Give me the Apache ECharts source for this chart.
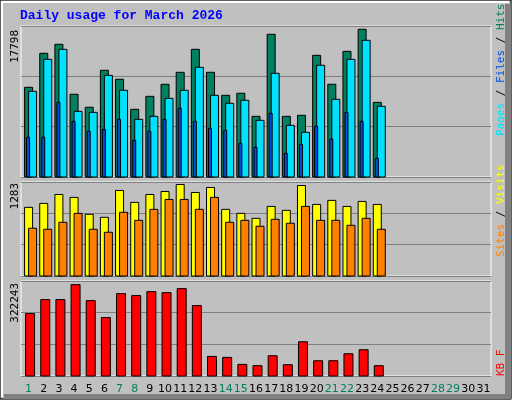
<!DOCTYPE html>
<html>
<head>
<meta charset="utf-8">
<script src="https://cdn.jsdelivr.net/npm/echarts@6/dist/echarts.min.js"></script>
<style>html,body{margin:0;padding:0;background:#fff}#chart{width:512px;height:400px}</style>
</head>
<body>
<div id="chart"></div>
<script>
var chart = echarts.init(document.getElementById('chart'));

var days = [];
for (var i = 1; i <= 31; i++) days.push(String(i));
var weekend = ['1', '7', '8', '14', '15', '21', '22', '28', '29'];

var hits = [10570, 14580, 15640, 9750, 8220, 12580, 11520, 7980, 9510, 10930, 12340, 15050, 12340, 9630, 9870, 7150, 16820, 7150, 7270, 14340, 10930, 14810, 17410, 8800];
var pages = [10100, 13870, 15050, 7740, 7620, 11980, 10220, 6800, 7150, 9270, 10220, 12930, 9630, 8690, 9040, 6680, 12220, 6090, 5270, 13170, 9160, 13870, 16110, 8330];
var files = [4680, 4680, 8800, 6560, 5390, 5620, 6800, 4320, 5390, 6800, 8100, 6560, 5740, 5500, 3970, 3500, 7510, 2790, 3850, 5980, 4470, 7620, 6560, 2210];
var visits = [937, 991, 1113, 1073, 842, 801, 1168, 1005, 1113, 1154, 1249, 1140, 1208, 910, 855, 787, 950, 896, 1235, 977, 1032, 950, 1018, 977];
var sites = [652, 638, 733, 855, 638, 597, 869, 760, 910, 1045, 1045, 910, 1073, 733, 760, 679, 774, 720, 950, 760, 760, 692, 787, 638];
var kb = [211800, 259200, 259200, 309900, 255800, 198300, 279400, 272700, 286200, 282800, 296400, 238900, 66500, 63100, 39400, 35000, 68700, 38300, 116100, 51800, 51800, 75500, 89000, 35000];

var max1 = 17798, max2 = 1283, max3 = 322243;

function barSeries(name, data, axis, color, x0, x1) {
    return {
        name: name,
        type: 'custom',
        xAxisIndex: axis,
        yAxisIndex: axis,
        data: data.map(function (v, i) { return [i, v]; }),
        renderItem: function (params, api) {
            var top = api.coord([api.value(0), api.value(1)]);
            var bot = api.coord([api.value(0), 0]);
            return {
                type: 'rect',
                shape: { x: top[0] + x0, y: top[1], width: x1 - x0, height: bot[1] - top[1] },
                style: { fill: color, stroke: '#000', lineWidth: 1 }
            };
        }
    };
}

var grids = [
    { left: 21, top: 26, width: 470, height: 151 },
    { left: 21, top: 182, width: 470, height: 94 },
    { left: 21, top: 281, width: 470, height: 95 }
];
grids.forEach(function (g) { g.show = true; g.borderColor = '#fff'; g.borderWidth = 1; g.backgroundColor = 'transparent'; });

function xAx(idx, labels) {
    return {
        type: 'category', gridIndex: idx, data: days, boundaryGap: true,
        axisLine: { show: false }, axisTick: { show: false },
        axisLabel: labels ? {
            show: true, interval: 0, margin: 8, fontSize: 11, fontFamily: 'DejaVu Sans',
            formatter: function (v) { return weekend.indexOf(v) >= 0 ? '{w|' + v + '}' : v; },
            color: '#000', rich: { w: { color: '#008060', fontSize: 11, fontFamily: 'DejaVu Sans' } }
        } : { show: false }
    };
}
function yAx(idx, max) {
    return {
        type: 'value', gridIndex: idx, min: 0, max: max, interval: max / 3,
        axisLabel: { show: false }, axisLine: { show: false }, axisTick: { show: false },
        splitLine: { lineStyle: { color: '#808080', width: 1 } }
    };
}

function vtext(x, y, rich, text) {
    return {
        type: 'text', x: x, y: y, rotation: Math.PI / 2,
        style: { text: text, rich: rich, fontFamily: 'DejaVu Sans Mono', fontSize: 11, align: 'right', verticalAlign: 'top' }
    };
}

option = {
    animation: false,
    backgroundColor: '#c0c0c0',
    grid: grids,
    xAxis: [xAx(0, false), xAx(1, false), xAx(2, true)],
    yAxis: [yAx(0, max1), yAx(1, max2), yAx(2, max3)],
    graphic: [
        { type: 'rect', shape: { x: 0, y: 0, width: 511, height: 399 }, style: { fill: 'none', stroke: '#000', lineWidth: 1 }, z: 100 },
        { type: 'rect', shape: { x: 1, y: 1, width: 508, height: 2 }, style: { fill: '#fff' }, z: 100 },
        { type: 'rect', shape: { x: 1, y: 1, width: 2, height: 396 }, style: { fill: '#fff' }, z: 100 },
        { type: 'rect', shape: { x: 505, y: 4, width: 6, height: 395 }, style: { fill: '#808080' }, z: 100 },
        { type: 'rect', shape: { x: 4, y: 394, width: 507, height: 5 }, style: { fill: '#808080' }, z: 100 },
        { type: 'text', x: 20, y: 9, style: { text: 'Daily usage for March 2026', fill: '#0000ff', fontFamily: 'Liberation Mono', fontWeight: 'bold', fontSize: 13 } },
        vtext(10, 30, {}, '17798'),
        vtext(10, 183, {}, '1283'),
        vtext(10, 283, {}, '322243'),
        {
            type: 'text', x: 496, y: 136, rotation: Math.PI / 2,
            style: {
                text: '{p|Pages} {s|/} {f|Files} {s|/} {h|Hits}', fontFamily: 'DejaVu Sans Mono', fontSize: 11,
                rich: { p: { fill: '#00e0ff' }, f: { fill: '#0050e0' }, h: { fill: '#008060' }, s: { fill: '#000' } },
                align: 'left', verticalAlign: 'top'
            }
        },
        {
            type: 'text', x: 496, y: 257, rotation: Math.PI / 2,
            style: {
                text: '{a|Sites} {s|/} {b|Visits}', fontFamily: 'DejaVu Sans Mono', fontSize: 11,
                rich: { a: { fill: '#ff8000' }, b: { fill: '#ffff00' }, s: { fill: '#000' } },
                align: 'left', verticalAlign: 'top'
            }
        },
        {
            type: 'text', x: 496, y: 376, rotation: Math.PI / 2,
            style: { text: 'KB F', fill: '#ff0000', fontFamily: 'DejaVu Sans Mono', fontSize: 11, align: 'left', verticalAlign: 'top' }
        }
    ],
    series: [
        barSeries('Hits', hits, 0, '#008060', -4, 4),
        barSeries('Pages', pages, 0, '#00e0ff', 0, 8),
        barSeries('Files', files, 0, '#0050e0', -2, 1),
        barSeries('Visits', visits, 1, '#ffff00', -4, 4),
        barSeries('Sites', sites, 1, '#ff8000', 0, 8),
        barSeries('KB', kb, 2, '#ff0000', -3, 6)
    ]
};
chart.setOption(option);
</script>
</body>
</html>
